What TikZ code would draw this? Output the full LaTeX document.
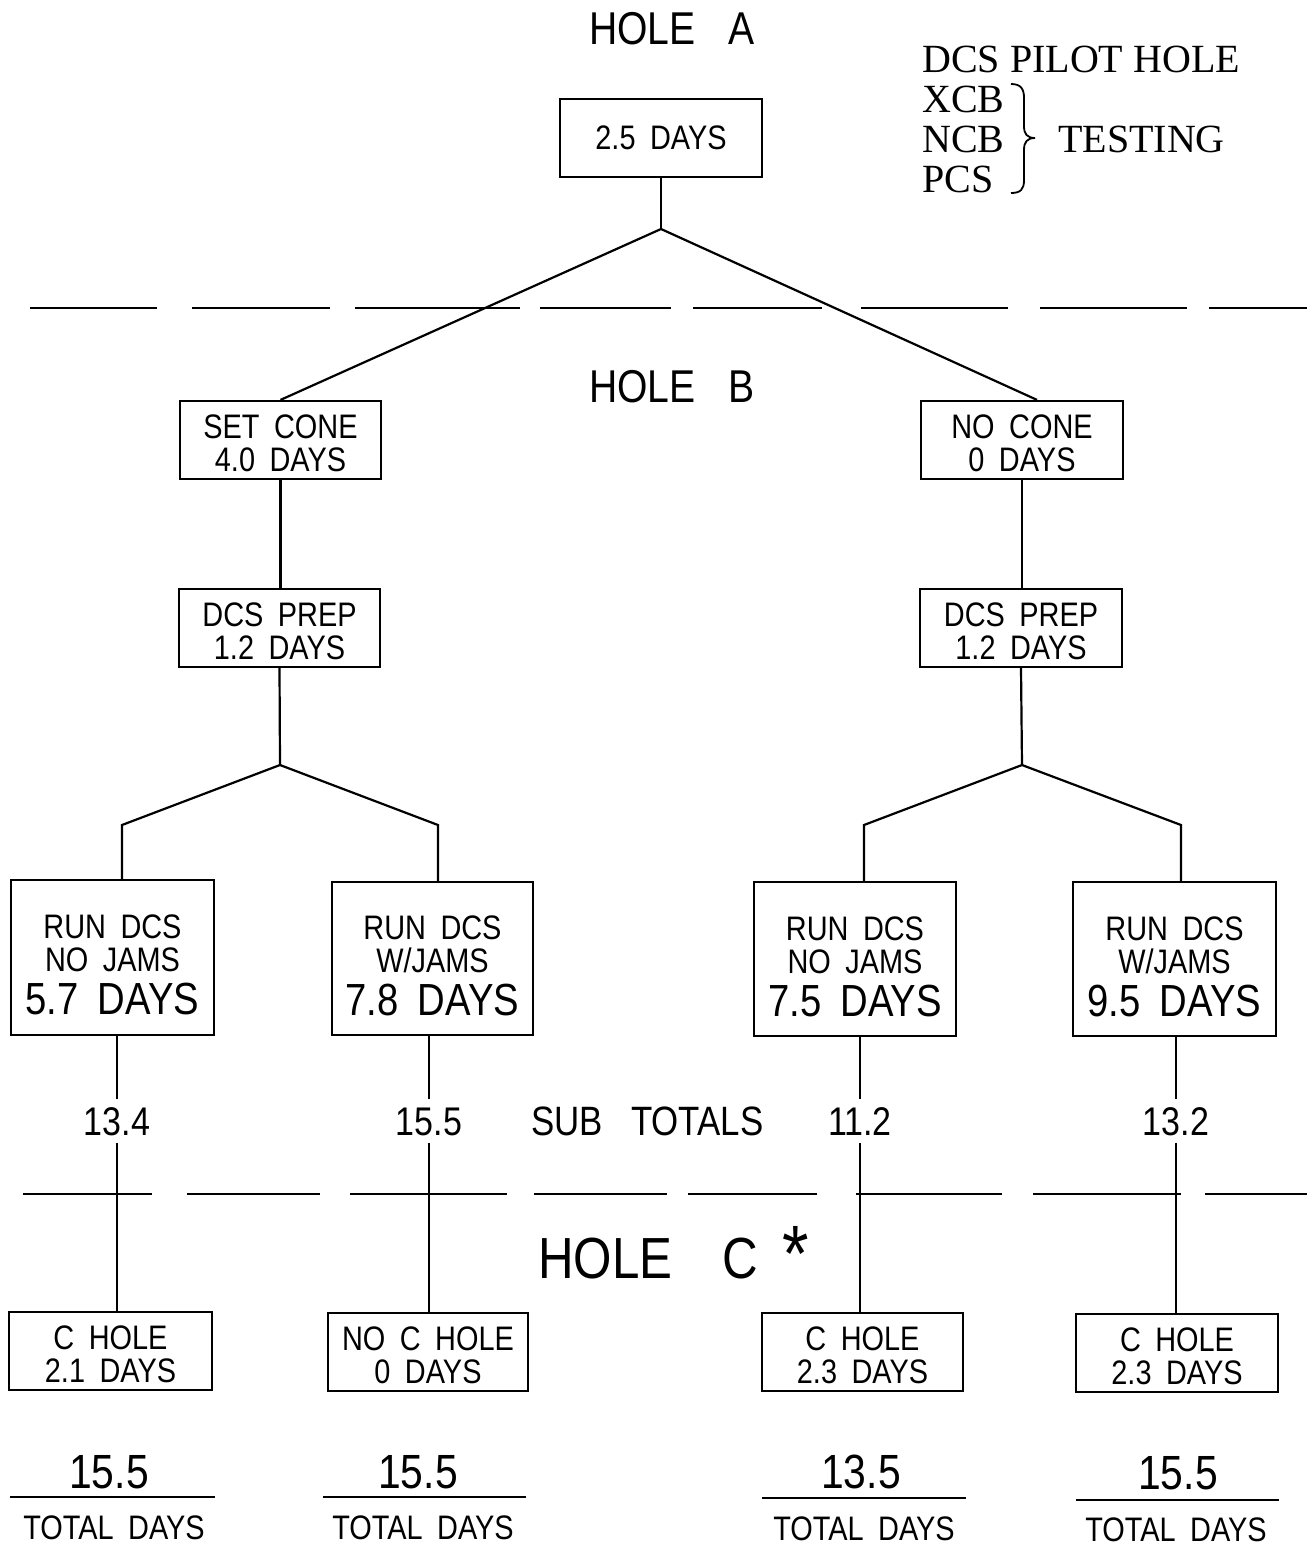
\documentclass[tikz,border=0pt]{standalone}
\usepackage{fontspec}
\newfontfamily\plotfont[FakeStretch=0.85,WordSpace=1.8]{Liberation Sans}
\newfontfamily\serfont{Liberation Serif}
\newcommand\uptwo{\rule{0pt}{31pt}}
\newcommand\upthree{\rule{0pt}{39pt}}
\begin{document}
\begin{tikzpicture}[x=1pt,y=-1pt]
\tikzset{
  box/.style={draw, line width=2.2pt, inner sep=0pt, align=center,
    font=\plotfont\fontsize{34}{33}\selectfont},
  conn/.style={line width=2.2pt},
  rule/.style={line width=2.2pt},
  title/.style={inner sep=0pt, font=\plotfont\fontsize{46}{46}\selectfont},
  sub/.style={inner sep=0pt, inner ysep=7pt, text height=29pt, text depth=0pt,
    font=\plotfont\fontsize{40}{40}\selectfont},
  tot/.style={inner sep=0pt, anchor=base, font=\plotfont\fontsize{48}{48}\selectfont},
  totlab/.style={inner sep=0pt, anchor=base, font=\plotfont\fontsize{34}{34}\selectfont},
  legend/.style={inner sep=0pt, anchor=base west, font=\serfont\fontsize{40}{40}\selectfont}
}
\fill[white] (0,0) rectangle (1307,1548);
\useasboundingbox (0,0) rectangle (1307,1548);

% titles
\node[title] (holeA) at (672,29) {HOLE\hspace{33pt}A};
\node[title] (holeB) at (672,387) {HOLE\hspace{33pt}B};
\node[title, font=\plotfont\fontsize{58}{58}\selectfont] (holeC) at (648,1259) {HOLE\hspace{50pt}C};
\node[inner sep=0pt, anchor=base, font=\plotfont\fontsize{80}{80}\selectfont] (star) at (796,1281) {*};
\node[inner sep=0pt, font=\plotfont\fontsize{41}{41}\selectfont] (subt) at (647.5,1121.5) {SUB\hspace{28pt}TOTALS};

% legend
\node[legend] (lgtitle) at (922,72) {DCS PILOT HOLE};
\node[legend] (lgx) at (922,112) {XCB};
\node[legend] (lgn) at (922,152) {NCB};
\node[legend] (lgp) at (922,192) {PCS};
\node[legend] (lgt) at (1058,152) {TESTING};
\draw[line width=1.8pt] (1011,84) .. controls (1021,84) and (1024,89) .. (1024,98)
  -- (1024,126) .. controls (1024,134) and (1027,138) .. (1035,138)
  .. controls (1027,138) and (1024,142) .. (1024,150)
  -- (1024,180) .. controls (1024,189) and (1021,193) .. (1011,193);

% dashed separators
\foreach \a/\b in {30/157,192/330,355/520,540/671,693/822,861/1008,1040/1187,1209/1307}
  \draw[rule] (\a,308) -- (\b,308);
\foreach \a/\b in {23/152,187/320,350/507,534/667,688/817,856/1002,1033/1181,1205/1307}
  \draw[rule] (\a,1194) -- (\b,1194);

% boxes
\node[box, minimum width=202pt, minimum height=78pt] (top) at (661,138) {2.5 DAYS};
\node[box, minimum width=201pt, minimum height=78pt] (sc) at (280.5,440) {\uptwo SET CONE\\4.0 DAYS};
\node[box, minimum width=202pt, minimum height=78pt] (nc) at (1022,440) {\uptwo NO CONE\\0 DAYS};
\node[box, minimum width=201pt, minimum height=78pt] (dp1) at (279.5,628) {\uptwo DCS PREP\\1.2 DAYS};
\node[box, minimum width=202pt, minimum height=78pt] (dp2) at (1021,628) {\uptwo DCS PREP\\1.2 DAYS};

\node[box, minimum width=203pt, minimum height=155pt] (r1) at (112.5,957.5)
  {\upthree RUN DCS\\NO JAMS\\[10pt]{\fontsize{45}{32}\selectfont 5.7 DAYS}};
\node[box, minimum width=201pt, minimum height=153pt] (r2) at (432.5,958.5)
  {\upthree RUN DCS\\W/JAMS\\[10pt]{\fontsize{45}{32}\selectfont 7.8 DAYS}};
\node[box, minimum width=202pt, minimum height=154pt] (r3) at (855,959)
  {\upthree RUN DCS\\NO JAMS\\[10pt]{\fontsize{45}{32}\selectfont 7.5 DAYS}};
\node[box, minimum width=203pt, minimum height=154pt] (r4) at (1174.5,959)
  {\upthree RUN DCS\\W/JAMS\\[10pt]{\fontsize{45}{32}\selectfont 9.5 DAYS}};

\node[box, minimum width=203pt, minimum height=78pt] (c1) at (110.5,1351) {\uptwo C HOLE\\2.1 DAYS};
\node[box, minimum width=200pt, minimum height=78pt] (c2) at (428,1352) {\uptwo NO C HOLE\\0 DAYS};
\node[box, minimum width=201pt, minimum height=78pt] (c3) at (862.5,1352) {\uptwo C HOLE\\2.3 DAYS};
\node[box, minimum width=202pt, minimum height=78pt] (c4) at (1177,1353) {\uptwo C HOLE\\2.3 DAYS};

% sub totals
\node[sub] (s1) at (117,1121) {13.4};
\node[sub] (s2) at (429,1121) {15.5};
\node[sub] (s3) at (860,1121) {11.2};
\node[sub] (s4) at (1176,1121) {13.2};

% totals
\node[tot] (t1) at (109,1488) {15.5};
\node[tot] (t2) at (418,1488) {15.5};
\node[tot] (t3) at (861,1488) {13.5};
\node[tot] (t4) at (1178,1489) {15.5};
\draw[rule] (10,1497) -- (215,1497);
\draw[rule] (323,1497) -- (526,1497);
\draw[rule] (762,1498) -- (966,1498);
\draw[rule] (1076,1500) -- (1279,1500);
\node[totlab] (l1) at (114,1539) {TOTAL DAYS};
\node[totlab] (l2) at (423,1539) {TOTAL DAYS};
\node[totlab] (l3) at (864,1540) {TOTAL DAYS};
\node[totlab] (l4) at (1176,1541) {TOTAL DAYS};

% branch points
\coordinate (aA) at (661,229);
\coordinate (aL) at (280,765);
\coordinate (aR) at (1022,765);
\coordinate (bL1) at (122,825);
\coordinate (bL2) at (438,825);
\coordinate (bR1) at (864,825);
\coordinate (bR2) at (1181,825);

% connectors
\draw[conn] (top.south) -- (aA);
\draw[conn] (aA) -- (sc.north);
\draw[conn] (aA) -- ([xshift=15pt]nc.north);
\draw[conn] (sc.south) -- (sc.south |- dp1.north);
\draw[conn] (nc.south) -- (nc.south |- dp2.north);
\draw[conn] (dp1.south) -- (aL);
\draw[conn] (dp2.south) -- (aR);
\draw[conn] (aL) -- (bL1) -- (bL1 |- r1.north);
\draw[conn] (aL) -- (bL2) -- (bL2 |- r2.north);
\draw[conn] (aR) -- (bR1) -- (bR1 |- r3.north);
\draw[conn] (aR) -- (bR2) -- (bR2 |- r4.north);
\draw[conn] (s1 |- r1.south) -- (s1.north);
\draw[conn] (s2 |- r2.south) -- (s2.north);
\draw[conn] (s3 |- r3.south) -- (s3.north);
\draw[conn] (s4 |- r4.south) -- (s4.north);
\draw[conn] (s1.south) -- (s1 |- c1.north);
\draw[conn] (s2.south) -- (s2 |- c2.north);
\draw[conn] (s3.south) -- (s3 |- c3.north);
\draw[conn] (s4.south) -- (s4 |- c4.north);
\end{tikzpicture}
\end{document}
